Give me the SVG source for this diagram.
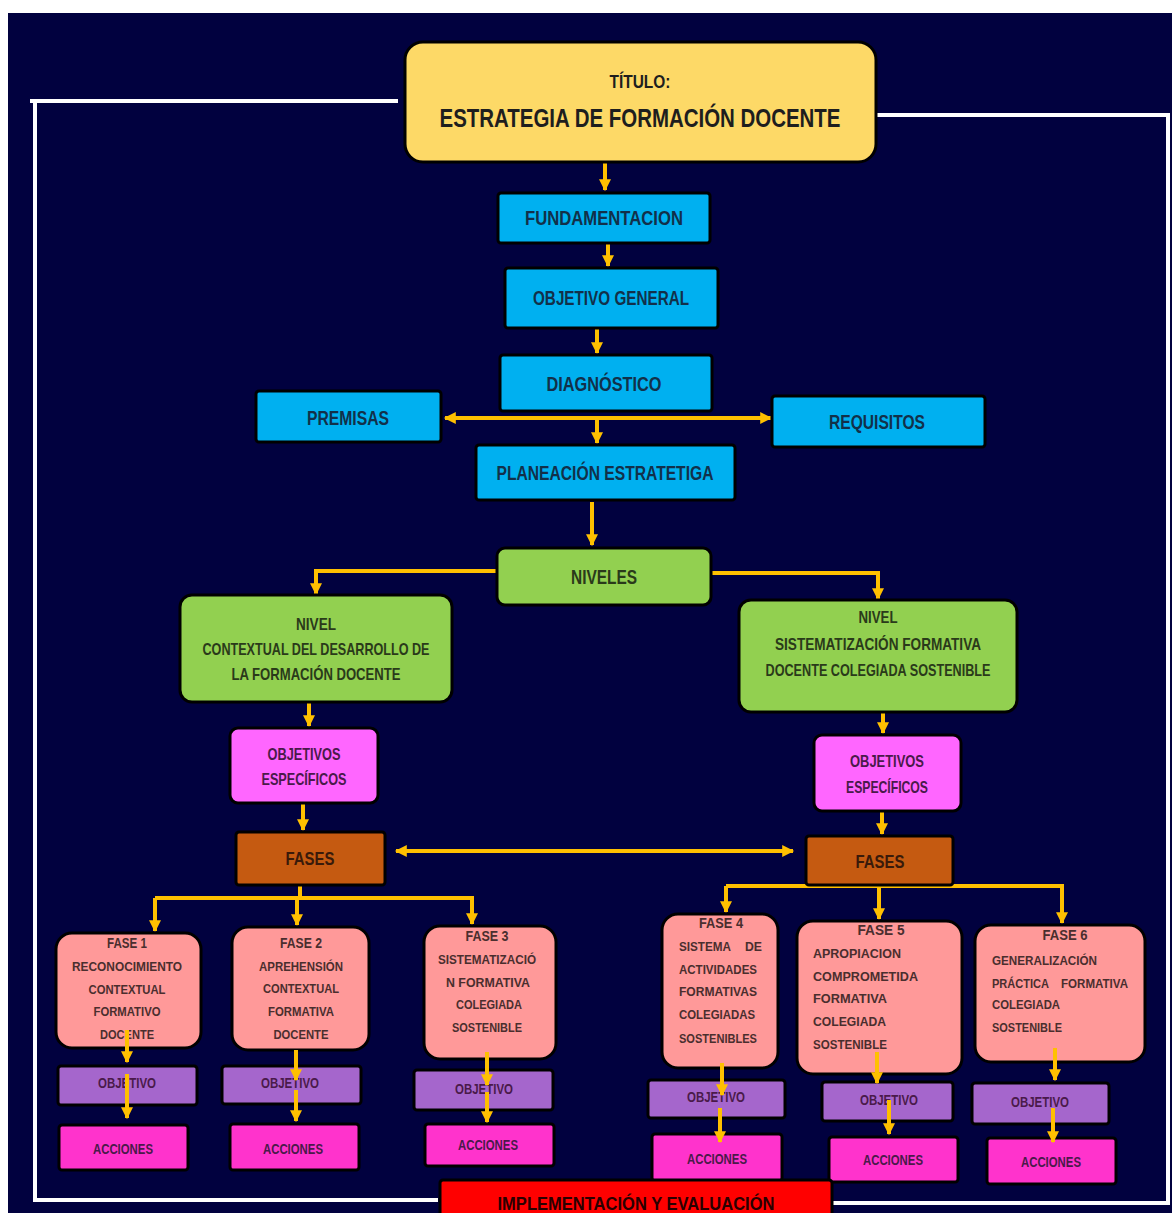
<svg xmlns="http://www.w3.org/2000/svg" width="1172" height="1213" viewBox="0 0 1172 1213">
<style>
.t{font-family:"Liberation Sans",Arial,sans-serif;fill:#1e1e1e;text-anchor:middle;font-weight:bold}
.tl{font-family:"Liberation Sans",Arial,sans-serif;fill:#4a2e2e;text-anchor:start;font-weight:bold}
.bt{fill:#12304a}
.gt{fill:#2a3a1a}
.pt{fill:#4a2e2e}
.mt{fill:#4a1a4a}
.box{stroke:#000;stroke-width:3}
.blue{fill:#00b0f0}
.green{fill:#92d050}
.pinkobj{fill:#ff66ff}
.fases{fill:#c55a11}
.fase{fill:#ff9999}
.obj{fill:#a566cc}
.acc{fill:#ff33cc}
.con{fill:none;stroke:#ffc000;stroke-width:4}
.frame{fill:none;stroke:#ffffff;stroke-width:4}
</style>
<defs>
<marker id="ah" viewBox="0 0 10 10" refX="9" refY="5" markerWidth="14" markerHeight="12" markerUnits="userSpaceOnUse" orient="auto-start-reverse">
<path d="M0 0 L10 5 L0 10 z" fill="#ffc000"/>
</marker>
</defs>
<rect x="0" y="0" width="1172" height="1213" fill="#ffffff"/>
<rect x="8" y="13" width="1164" height="1200" fill="#01013f"/>
<g id="frame">
<polyline class="frame" points="30,101 398,101"/>
<polyline class="frame" points="35,101 35,1200 438,1200"/>
<polyline class="frame" points="873,115 1168,115 1168,1203 830,1203"/>
</g>
<g id="connectors">
<path class="con" d="M605 163 V190" marker-end="url(#ah)"/>
<path class="con" d="M608 244 V266" marker-end="url(#ah)"/>
<path class="con" d="M597 329 V353" marker-end="url(#ah)"/>
<path class="con" d="M597 418 V443" marker-end="url(#ah)"/>
<path class="con" d="M445 418 H771" marker-start="url(#ah)" marker-end="url(#ah)"/>
<path class="con" d="M592 502 V545" marker-end="url(#ah)"/>
<path class="con" d="M497 571 H316 V594" marker-end="url(#ah)"/>
<path class="con" d="M711 573 H878 V599" marker-end="url(#ah)"/>
<path class="con" d="M309 703 V726" marker-end="url(#ah)"/>
<path class="con" d="M883 713 V733" marker-end="url(#ah)"/>
<path class="con" d="M303 804 V830" marker-end="url(#ah)"/>
<path class="con" d="M882 812 V834" marker-end="url(#ah)"/>
<path class="con" d="M396 851 H793" marker-start="url(#ah)" marker-end="url(#ah)"/>
<path class="con" d="M300 885 V898"/>
<path class="con" d="M155 898 H472 V924" marker-end="url(#ah)"/>
<path class="con" d="M155 898 V931" marker-end="url(#ah)"/>
<path class="con" d="M297 898 V925" marker-end="url(#ah)"/>
<path class="con" d="M726 886 V912" marker-end="url(#ah)"/>
<path class="con" d="M726 886 H1062 V923" marker-end="url(#ah)"/>
<path class="con" d="M879 886 V919" marker-end="url(#ah)"/>
</g>
<g id="title">
<rect class="box" x="405" y="42" width="471" height="120" rx="18" fill="#fdd967"/>
<text class="t" x="640" y="88" font-size="18" textLength="61" lengthAdjust="spacingAndGlyphs">TÍTULO:</text>
<text class="t" x="640" y="127" font-size="25" textLength="401" lengthAdjust="spacingAndGlyphs">ESTRATEGIA DE FORMACIÓN DOCENTE</text>
</g>
<g id="fundamentacion">
<rect class="box blue" x="498" y="193" width="212" height="50" rx="3"/>
<text class="t bt" x="604" y="225" font-size="21" textLength="158" lengthAdjust="spacingAndGlyphs">FUNDAMENTACION</text>
</g>
<g id="objetivo-general">
<rect class="box blue" x="505" y="268" width="213" height="60" rx="3"/>
<text class="t bt" x="611" y="305" font-size="21" textLength="156" lengthAdjust="spacingAndGlyphs">OBJETIVO GENERAL</text>
</g>
<g id="diagnostico">
<rect class="box blue" x="500" y="355" width="212" height="56" rx="3"/>
<text class="t bt" x="604" y="391" font-size="21" textLength="115" lengthAdjust="spacingAndGlyphs">DIAGNÓSTICO</text>
</g>
<g id="premisas">
<rect class="box blue" x="256" y="391" width="185" height="51" rx="3"/>
<text class="t bt" x="348" y="425" font-size="21" textLength="82" lengthAdjust="spacingAndGlyphs">PREMISAS</text>
</g>
<g id="requisitos">
<rect class="box blue" x="772" y="396" width="213" height="51" rx="3"/>
<text class="t bt" x="877" y="429" font-size="21" textLength="96" lengthAdjust="spacingAndGlyphs">REQUISITOS</text>
</g>
<g id="planeacion">
<rect class="box blue" x="476" y="445" width="259" height="55" rx="3"/>
<text class="t bt" x="605" y="480" font-size="21" textLength="217" lengthAdjust="spacingAndGlyphs">PLANEACIÓN ESTRATETIGA</text>
</g>
<g id="niveles">
<rect class="box green" x="497" y="548" width="214" height="57" rx="8"/>
<text class="t gt" x="604" y="584" font-size="20" textLength="66" lengthAdjust="spacingAndGlyphs">NIVELES</text>
</g>
<g id="nivel-contextual">
<rect class="box green" x="180" y="595" width="272" height="107" rx="12"/>
<text class="t gt" x="316" y="630" font-size="17" textLength="40" lengthAdjust="spacingAndGlyphs">NIVEL</text>
<text class="t gt" x="316" y="655" font-size="17" textLength="227" lengthAdjust="spacingAndGlyphs">CONTEXTUAL DEL DESARROLLO DE</text>
<text class="t gt" x="316" y="680" font-size="17" textLength="169" lengthAdjust="spacingAndGlyphs">LA FORMACIÓN DOCENTE</text>
</g>
<g id="nivel-sistematizacion">
<rect class="box green" x="739" y="600" width="278" height="112" rx="12"/>
<text class="t gt" x="878" y="623" font-size="17" textLength="39" lengthAdjust="spacingAndGlyphs">NIVEL</text>
<text class="t gt" x="878" y="650" font-size="17" textLength="206" lengthAdjust="spacingAndGlyphs">SISTEMATIZACIÓN FORMATIVA</text>
<text class="t gt" x="878" y="676" font-size="17" textLength="225" lengthAdjust="spacingAndGlyphs">DOCENTE COLEGIADA SOSTENIBLE</text>
</g>
<g id="objetivos-esp-1">
<rect class="box pinkobj" x="230" y="728" width="148" height="75" rx="8"/>
<text class="t mt" x="304" y="760" font-size="17" textLength="73" lengthAdjust="spacingAndGlyphs">OBJETIVOS</text>
<text class="t mt" x="304" y="785" font-size="17" textLength="85" lengthAdjust="spacingAndGlyphs">ESPECÍFICOS</text>
</g>
<g id="objetivos-esp-2">
<rect class="box pinkobj" x="814" y="735" width="147" height="76" rx="8"/>
<text class="t mt" x="887" y="767" font-size="17" textLength="74" lengthAdjust="spacingAndGlyphs">OBJETIVOS</text>
<text class="t mt" x="887" y="793" font-size="17" textLength="82" lengthAdjust="spacingAndGlyphs">ESPECÍFICOS</text>
</g>
<g id="fases-1">
<rect class="box fases" x="236" y="832" width="149" height="53" rx="3"/>
<text class="t" x="310" y="865" font-size="19" textLength="49" lengthAdjust="spacingAndGlyphs" fill="#3a1a0a" style="fill:#3a1a0a">FASES</text>
</g>
<g id="fases-2">
<rect class="box fases" x="806" y="836" width="147" height="49" rx="3"/>
<text class="t" x="880" y="868" font-size="19" textLength="49" lengthAdjust="spacingAndGlyphs" style="fill:#3a1a0a">FASES</text>
</g>
<g id="fase1">
<rect class="box fase" x="56" y="933" width="145" height="115" rx="16"/>
<text class="t pt" x="127" y="948" font-size="15" textLength="40" lengthAdjust="spacingAndGlyphs">FASE 1</text>
<text class="t pt" x="127" y="971" font-size="13" textLength="110" lengthAdjust="spacingAndGlyphs">RECONOCIMIENTO</text>
<text class="t pt" x="127" y="994" font-size="13" textLength="77" lengthAdjust="spacingAndGlyphs">CONTEXTUAL</text>
<text class="t pt" x="127" y="1016" font-size="13" textLength="67" lengthAdjust="spacingAndGlyphs">FORMATIVO</text>
<text class="t pt" x="127" y="1039" font-size="13" textLength="54" lengthAdjust="spacingAndGlyphs">DOCENTE</text>
</g>
<g id="fase2">
<rect class="box fase" x="232" y="927" width="137" height="123" rx="16"/>
<text class="t pt" x="301" y="948" font-size="15" textLength="42" lengthAdjust="spacingAndGlyphs">FASE 2</text>
<text class="t pt" x="301" y="971" font-size="13" textLength="84" lengthAdjust="spacingAndGlyphs">APREHENSIÓN</text>
<text class="t pt" x="301" y="993" font-size="13" textLength="76" lengthAdjust="spacingAndGlyphs">CONTEXTUAL</text>
<text class="t pt" x="301" y="1016" font-size="13" textLength="66" lengthAdjust="spacingAndGlyphs">FORMATIVA</text>
<text class="t pt" x="301" y="1039" font-size="13" textLength="55" lengthAdjust="spacingAndGlyphs">DOCENTE</text>
</g>
<g id="fase3">
<rect class="box fase" x="424" y="926" width="132" height="133" rx="16"/>
<text class="t pt" x="487" y="941" font-size="15" textLength="43" lengthAdjust="spacingAndGlyphs">FASE 3</text>
<text class="t pt" x="487" y="964" font-size="13" textLength="98" lengthAdjust="spacingAndGlyphs">SISTEMATIZACIÓ</text>
<text class="t pt" x="488" y="987" font-size="13" textLength="84" lengthAdjust="spacingAndGlyphs">N FORMATIVA</text>
<text class="t pt" x="489" y="1009" font-size="13" textLength="66" lengthAdjust="spacingAndGlyphs">COLEGIADA</text>
<text class="t pt" x="487" y="1032" font-size="13" textLength="70" lengthAdjust="spacingAndGlyphs">SOSTENIBLE</text>
</g>
<g id="fase4">
<rect class="box fase" x="662" y="914" width="116" height="154" rx="16"/>
<text class="t pt" x="721" y="928" font-size="15" textLength="44" lengthAdjust="spacingAndGlyphs">FASE 4</text>
<text class="tl" x="679" y="951" font-size="13" textLength="52" lengthAdjust="spacingAndGlyphs">SISTEMA</text>
<text class="tl" x="745" y="951" font-size="13" textLength="17" lengthAdjust="spacingAndGlyphs">DE</text>
<text class="tl" x="679" y="974" font-size="13" textLength="78" lengthAdjust="spacingAndGlyphs">ACTIVIDADES</text>
<text class="tl" x="679" y="996" font-size="13" textLength="78" lengthAdjust="spacingAndGlyphs">FORMATIVAS</text>
<text class="tl" x="679" y="1019" font-size="13" textLength="76" lengthAdjust="spacingAndGlyphs">COLEGIADAS</text>
<text class="tl" x="679" y="1043" font-size="13" textLength="78" lengthAdjust="spacingAndGlyphs">SOSTENIBLES</text>
</g>
<g id="fase5">
<rect class="box fase" x="797" y="921" width="165" height="153" rx="16"/>
<text class="t pt" x="881" y="935" font-size="15" textLength="47" lengthAdjust="spacingAndGlyphs">FASE 5</text>
<text class="tl" x="813" y="958" font-size="13" textLength="88" lengthAdjust="spacingAndGlyphs">APROPIACION</text>
<text class="tl" x="813" y="981" font-size="13" textLength="105" lengthAdjust="spacingAndGlyphs">COMPROMETIDA</text>
<text class="tl" x="813" y="1003" font-size="13" textLength="74" lengthAdjust="spacingAndGlyphs">FORMATIVA</text>
<text class="tl" x="813" y="1026" font-size="13" textLength="73" lengthAdjust="spacingAndGlyphs">COLEGIADA</text>
<text class="tl" x="813" y="1049" font-size="13" textLength="74" lengthAdjust="spacingAndGlyphs">SOSTENIBLE</text>
</g>
<g id="fase6">
<rect class="box fase" x="975" y="925" width="170" height="137" rx="16"/>
<text class="t pt" x="1065" y="940" font-size="15" textLength="45" lengthAdjust="spacingAndGlyphs">FASE 6</text>
<text class="tl" x="992" y="965" font-size="13" textLength="105" lengthAdjust="spacingAndGlyphs">GENERALIZACIÓN</text>
<text class="tl" x="992" y="988" font-size="13" textLength="57" lengthAdjust="spacingAndGlyphs">PRÁCTICA</text>
<text class="tl" x="1061" y="988" font-size="13" textLength="67" lengthAdjust="spacingAndGlyphs">FORMATIVA</text>
<text class="tl" x="992" y="1009" font-size="13" textLength="68" lengthAdjust="spacingAndGlyphs">COLEGIADA</text>
<text class="tl" x="992" y="1032" font-size="13" textLength="70" lengthAdjust="spacingAndGlyphs">SOSTENIBLE</text>
</g>
<g id="objetivo1">
<rect class="box obj" x="58" y="1066" width="139" height="39" rx="3"/>
<text class="t mt" x="127" y="1088" font-size="14" textLength="58" lengthAdjust="spacingAndGlyphs">OBJETIVO</text>
</g>
<g id="objetivo2">
<rect class="box obj" x="222" y="1066" width="139" height="38" rx="3"/>
<text class="t mt" x="290" y="1088" font-size="14" textLength="58" lengthAdjust="spacingAndGlyphs">OBJETIVO</text>
</g>
<g id="objetivo3">
<rect class="box obj" x="414" y="1070" width="139" height="40" rx="3"/>
<text class="t mt" x="484" y="1094" font-size="14" textLength="58" lengthAdjust="spacingAndGlyphs">OBJETIVO</text>
</g>
<g id="objetivo4">
<rect class="box obj" x="648" y="1080" width="137" height="38" rx="3"/>
<text class="t mt" x="716" y="1102" font-size="14" textLength="58" lengthAdjust="spacingAndGlyphs">OBJETIVO</text>
</g>
<g id="objetivo5">
<rect class="box obj" x="822" y="1082" width="131" height="39" rx="3"/>
<text class="t mt" x="889" y="1105" font-size="14" textLength="58" lengthAdjust="spacingAndGlyphs">OBJETIVO</text>
</g>
<g id="objetivo6">
<rect class="box obj" x="972" y="1083" width="137" height="41" rx="3"/>
<text class="t mt" x="1040" y="1107" font-size="14" textLength="58" lengthAdjust="spacingAndGlyphs">OBJETIVO</text>
</g>
<g id="acciones1">
<rect class="box acc" x="59" y="1125" width="129" height="45" rx="3"/>
<text class="t mt" x="123" y="1154" font-size="14" textLength="60" lengthAdjust="spacingAndGlyphs">ACCIONES</text>
</g>
<g id="acciones2">
<rect class="box acc" x="230" y="1124" width="129" height="46" rx="3"/>
<text class="t mt" x="293" y="1154" font-size="14" textLength="60" lengthAdjust="spacingAndGlyphs">ACCIONES</text>
</g>
<g id="acciones3">
<rect class="box acc" x="425" y="1124" width="129" height="42" rx="3"/>
<text class="t mt" x="488" y="1150" font-size="14" textLength="60" lengthAdjust="spacingAndGlyphs">ACCIONES</text>
</g>
<g id="acciones4">
<rect class="box acc" x="652" y="1134" width="130" height="47" rx="3"/>
<text class="t mt" x="717" y="1164" font-size="14" textLength="60" lengthAdjust="spacingAndGlyphs">ACCIONES</text>
</g>
<g id="acciones5">
<rect class="box acc" x="829" y="1137" width="129" height="45" rx="3"/>
<text class="t mt" x="893" y="1165" font-size="14" textLength="60" lengthAdjust="spacingAndGlyphs">ACCIONES</text>
</g>
<g id="acciones6">
<rect class="box acc" x="987" y="1138" width="129" height="46" rx="3"/>
<text class="t mt" x="1051" y="1167" font-size="14" textLength="60" lengthAdjust="spacingAndGlyphs">ACCIONES</text>
</g>
<g id="implementacion">
<rect class="box" x="440" y="1180" width="392" height="45" rx="3" fill="#ff0000"/>
<text class="t" x="636" y="1210" font-size="18" textLength="277" lengthAdjust="spacingAndGlyphs" style="fill:#2a0000">IMPLEMENTACIÓN Y EVALUACIÓN</text>
</g>
<g id="connectors-fases">
<path class="con" d="M127 1030 V1062" marker-end="url(#ah)"/>
<path class="con" d="M127 1074 V1118" marker-end="url(#ah)"/>
<path class="con" d="M296 1050 V1080" marker-end="url(#ah)"/>
<path class="con" d="M296 1090 V1121" marker-end="url(#ah)"/>
<path class="con" d="M487 1052 V1085" marker-end="url(#ah)"/>
<path class="con" d="M487 1092 V1122" marker-end="url(#ah)"/>
<path class="con" d="M722 1063 V1095" marker-end="url(#ah)"/>
<path class="con" d="M720 1108 V1142" marker-end="url(#ah)"/>
<path class="con" d="M877 1052 V1083" marker-end="url(#ah)"/>
<path class="con" d="M889 1100 V1134" marker-end="url(#ah)"/>
<path class="con" d="M1055 1048 V1080" marker-end="url(#ah)"/>
<path class="con" d="M1053 1108 V1142" marker-end="url(#ah)"/>
</g>
</svg>
